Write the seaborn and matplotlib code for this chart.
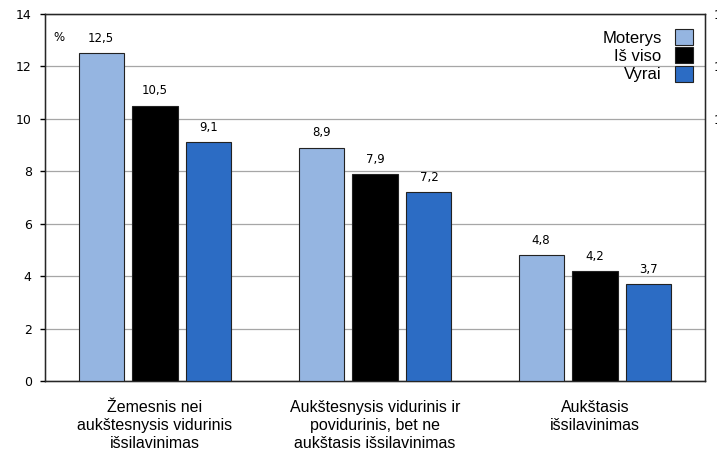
import matplotlib
matplotlib.use("Agg")
import matplotlib.pyplot as plt
import seaborn as sns
import pandas as pd
import numpy as np

categories = ["Žemesnis nei\naukštesnysis vidurinis\nišsilavinimas",
              "Aukštesnysis vidurinis ir\npovidurinis, bet ne\naukštasis išsilavinimas",
              "Aukštasis\nišsilavinimas"]
series = ["Moterys", "Iš viso", "Vyrai"]
moterys = [12.5, 8.9, 4.8]
is_viso = [10.5, 7.9, 4.2]
vyrai = [9.1, 7.2, 3.7]
colors = ["#95b5e1", "#000000", "#2c6cc4"]
y_ticks = [0, 2, 4, 6, 8, 10, 12, 14]

df = pd.DataFrame({
    "cat": categories * 3,
    "series": [s for s in series for _ in categories],
    "value": moterys + is_viso + vyrai,
})

sns.set_style("white")
plt.rcParams["text.color"] = "black"
plt.rcParams["xtick.color"] = "black"
plt.rcParams["ytick.color"] = "black"
fig = plt.figure(figsize=(7.17, 4.53), dpi=100)
ax = fig.add_axes([45 / 717, 1 - 381 / 453, 660 / 717, 367 / 453])

sns.barplot(data=df, x="cat", y="value", hue="series", palette=colors,
            saturation=1, width=0.735, gap=0.163, edgecolor="#222222",
            linewidth=0.8, ax=ax, zorder=3)

ax.set_ylim(0, 14)
ax.set_xlim(-0.5, 2.5)
ax.set_yticks(y_ticks)
ax.set_yticklabels([str(t) for t in y_ticks], fontsize=9, family="DejaVu Sans")
ax.yaxis.grid(True, color="#a6a6a6", linewidth=0.9, zorder=0)
ax.set_axisbelow(True)
ax.tick_params(axis="y", length=3.6, width=1, color="black", pad=6)

ax.set_xticks([0, 1, 2])
ax.set_xticklabels(categories, fontsize=11.5, family="Liberation Sans", linespacing=1.22)
ax.set_xticks([-0.5, 0.5, 1.5, 2.5], minor=True)
ax.tick_params(axis="x", which="major", length=0, pad=14)
ax.tick_params(axis="x", which="minor", length=6, width=1, color="#333333")
ax.set_xlabel("")
ax.set_ylabel("")

for sp in ax.spines.values():
    sp.set_color("black")
    sp.set_linewidth(1)
    sp.set_visible(True)

for cont in ax.containers:
    labels = [f"{v:.1f}".replace(".", ",") for v in cont.datavalues]
    ax.bar_label(cont, labels=labels, padding=6, fontsize=8.5, family="DejaVu Sans")

ax.text(0.012, 0.955, "%", transform=ax.transAxes, fontsize=8.5,
        family="DejaVu Sans", va="top")

# right-hand axis, mostly cut off by the figure edge
ax2 = ax.twinx()
ax2.set_ylim(0, 14)
ax2.set_yticks([14, 12, 10])
ax2.set_yticklabels(["14", "12", "10"], fontsize=9, family="DejaVu Sans")
ax2.tick_params(axis="y", length=0, pad=6)
ax2.grid(False)

leg = ax.legend(loc="upper right", bbox_to_anchor=(1.005, 1.0), frameon=False,
                markerfirst=False, prop={"family": "Liberation Sans", "size": 12},
                handlelength=1.1, handleheight=1.1, handletextpad=0.8,
                labelspacing=0.1, title=None)
for t in leg.get_texts():
    t.set_ha("right")

fig.savefig("out.png", dpi=100)
